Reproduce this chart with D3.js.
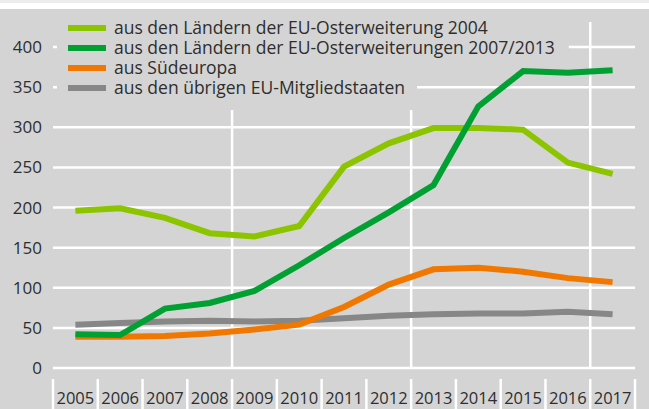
<html>
<head>
<meta charset="utf-8">
<title>Zuwanderung aus EU-Staaten</title>
<style>
  body { margin: 0; background: #ffffff; }
  text { font-family: "Open Sans", "Noto Sans", sans-serif; fill: #2e2e2e; }
</style>
</head>
<body>
<script src="https://cdn.jsdelivr.net/npm/d3@7"></script>
<script>
var width = 649, height = 409;

// Daten
var jahre = ["2005", "2006", "2007", "2008", "2009", "2010", "2011", "2012", "2013", "2014", "2015", "2016", "2017"];
var ost2004 = [196, 199, 187, 168, 164, 177, 251, 280, 299, 299, 297, 256, 242];
var ost2007 = [42, 41, 74, 81, 96, 128, 162, 194, 228, 326, 370, 368, 371];
var sued = [39, 39, 40, 43, 48, 54, 76, 104, 123, 125, 120, 112, 107];
var uebrige = [54, 56, 58, 59, 58, 59, 62, 65, 67, 68, 68, 70, 67];
var yTicks = [0, 50, 100, 150, 200, 250, 300, 350, 400];
var namen = [
    "aus den Ländern der EU-Osterweiterung 2004",
    "aus den Ländern der EU-Osterweiterungen 2007/2013",
    "aus Südeuropa",
    "aus den übrigen EU-Mitgliedstaaten"
];
var farben = ["#8cc400", "#00a132", "#f07800", "#878787"];
var reihen = [ost2004, ost2007, sued, uebrige];

var svg = d3.select("body").append("svg")
    .attr("width", width)
    .attr("height", height);

// Hintergrund
svg.append("rect").attr("x", 0).attr("y", 0).attr("width", width).attr("height", 3).attr("fill", "#ececec");
svg.append("rect").attr("x", 0).attr("y", 9).attr("width", width).attr("height", height - 9).attr("fill", "#d4d4d4");

var left = 53, right = 635, bottom = 368;
var x = d3.scaleBand().domain(jahre).range([left, right]);
var y = d3.scaleLinear().domain([0, 400]).range([bottom, 47]);

// horizontale Gitterlinien
svg.append("g").selectAll("line")
    .data(yTicks)
    .enter().append("line")
    .attr("x1", left).attr("x2", right)
    .attr("y1", d => y(d)).attr("y2", d => y(d))
    .attr("stroke", "#ffffff").attr("stroke-width", 2.5);

// vertikale Gitterlinien (2008|2009, 2012|2013, 2016|2017)
svg.append("g").selectAll("line")
    .data(["2009", "2013", "2017"])
    .enter().append("line")
    .attr("x1", d => x(d)).attr("x2", d => x(d))
    .attr("y1", 22).attr("y2", bottom)
    .attr("stroke", "#ffffff").attr("stroke-width", 2.5);

// y-Achse Beschriftung
svg.append("g").selectAll("text")
    .data(yTicks)
    .enter().append("text")
    .attr("x", 42).attr("y", d => y(d))
    .attr("dy", "0.36em")
    .attr("text-anchor", "end")
    .attr("font-size", "17px")
    .text(d => d);

// x-Achse: Trennstriche und Jahre
var grenzen = jahre.map(j => x(j)).concat([right]);
svg.append("g").selectAll("line")
    .data(grenzen)
    .enter().append("line")
    .attr("x1", d => d).attr("x2", d => d)
    .attr("y1", 379).attr("y2", height)
    .attr("stroke", "#ffffff").attr("stroke-width", 2.5);

svg.append("g").selectAll("text")
    .data(jahre)
    .enter().append("text")
    .attr("x", d => x(d) + x.bandwidth() / 2)
    .attr("y", 404)
    .attr("text-anchor", "middle")
    .attr("font-size", "16.5px")
    .text(d => d);

// Legende
var legende = svg.append("g");
var lgBg = legende.append("g");
var zeilen = legende.selectAll("g.zeile")
    .data(namen)
    .enter().append("g")
    .attr("class", "zeile")
    .attr("transform", (d, i) => "translate(68," + (28 + i * 20) + ")");
zeilen.append("line")
    .attr("x1", 0).attr("x2", 38)
    .attr("stroke", (d, i) => farben[i]).attr("stroke-width", 6);
zeilen.append("text")
    .attr("x", 46).attr("dy", "0.36em")
    .attr("font-size", "17.5px")
    .text(d => d);

// Hintergrund der Legende verdeckt das Gitter
var breite = [];
zeilen.selectAll("text").each(function () { breite.push(this.getComputedTextLength()); });
var b1 = Math.max(breite[0], breite[1]), b2 = Math.max(breite[2], breite[3]);
lgBg.append("rect").attr("x", 57).attr("y", 9).attr("width", 68 + 46 + b1 + 14 - 57).attr("height", 49).attr("fill", "#d4d4d4");
lgBg.append("rect").attr("x", 57).attr("y", 57).attr("width", 68 + 46 + b2 + 12 - 57).attr("height", 53).attr("fill", "#d4d4d4");

// Linien
var linie = d3.line()
    .x((d, i) => x(jahre[i]) + x.bandwidth() / 2)
    .y(d => y(d));

svg.append("g").selectAll("path")
    .data([3, 2, 0, 1])
    .enter().append("path")
    .attr("d", k => linie(reihen[k]))
    .attr("fill", "none")
    .attr("stroke", k => farben[k])
    .attr("stroke-width", 6)
    .attr("stroke-linejoin", "miter");
</script>
</body>
</html>
